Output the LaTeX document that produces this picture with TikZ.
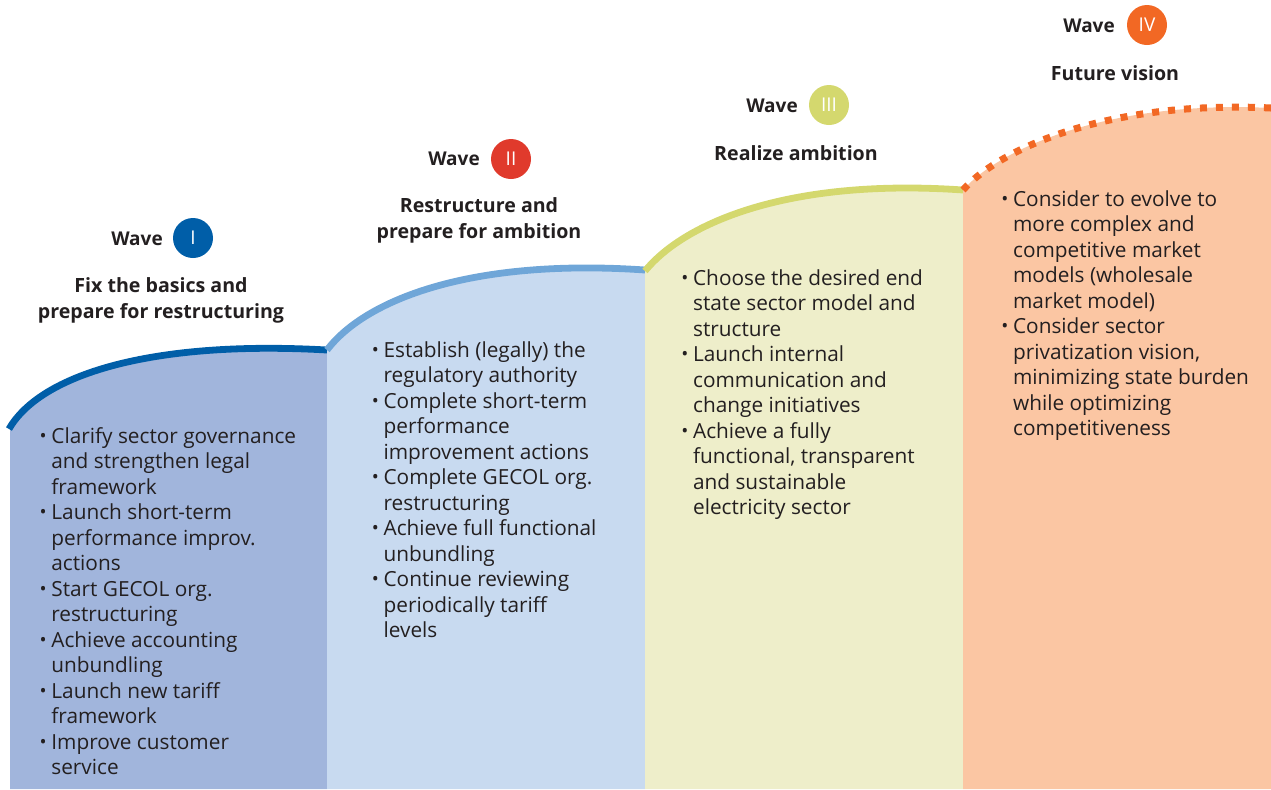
\documentclass[tikz,border=0pt]{standalone}
\usepackage{fontspec}
\setmainfont{Open Sans}
\definecolor{txt}{HTML}{231F20}
\definecolor{fillA}{HTML}{A1B5DC}
\definecolor{fillB}{HTML}{C8DAF0}
\definecolor{fillC}{HTML}{EEEECA}
\definecolor{fillD}{HTML}{FBC6A3}
\definecolor{lineA}{HTML}{005EA8}
\definecolor{lineB}{HTML}{6FA6D8}
\definecolor{lineC}{HTML}{D4D86E}
\definecolor{lineD}{HTML}{F26824}
\definecolor{redII}{HTML}{E03A2C}
\newcommand\bul{\makebox[4.6pt][l]{\hspace{-1.3pt}\raisebox{0.04em}{\scalebox{0.9}{\textbullet}}}}
\newcommand\ind{\makebox[4.6pt]{}}
\begin{document}
\begin{tikzpicture}[x=0.5pt,y=-0.5pt,
  body/.style={font=\fontsize{10.4}{12.75}\selectfont, text=txt, align=left, anchor=base west, inner sep=0pt},
  head/.style={font=\bfseries\fontsize{9.8}{12.75}\selectfont, text=txt, align=center, anchor=base, inner sep=0pt},
  wavelbl/.style={font=\bfseries\fontsize{9.5}{12}\selectfont, text=txt, anchor=base, inner sep=0pt},
  badge/.style={circle, minimum size=20pt, inner sep=0pt, text=white, font=\fontsize{9.5}{12}\selectfont},
  arcline/.style={line width=3.4pt}
]
\useasboundingbox (0,0) rectangle (1271,789);
% panel fills
\fill[fillA] (10,428) .. controls (40,375) and (150,340) .. (327,350) -- (327,789) -- (10,789) -- cycle;
\fill[fillB] (327,350) .. controls (365,300) and (470,258) .. (645,270) -- (645,789) -- (327,789) -- cycle;
\fill[fillC] (645,271) .. controls (685,222) and (790,178) .. (963,190) -- (963,789) -- (645,789) -- cycle;
\fill[fillD] (963,190) .. controls (1000,148) and (1110,100) .. (1271,108) -- (1271,789) -- (963,789) -- cycle;
% arcs
\draw[arcline, lineA] (9,429) .. controls (40,375) and (150,340) .. (327,350);
\draw[arcline, lineB] (327,350) .. controls (365,300) and (470,258) .. (645,270);
\draw[arcline, lineC] (645,271) .. controls (685,222) and (790,178) .. (963,190);
\draw[line width=3.5pt, lineD, dash pattern=on 3.5pt off 4.5pt] (963,190) .. controls (1000,148) and (1110,100) .. (1271,108);
% wave labels
\node[wavelbl] (w1) at (137,245) {Wave};
\node[badge, fill=lineA] (b1) at (193,238) {I};
\node[head] (h1) at (161,318) {Fix the basics and\\prepare for restructuring};
\node[wavelbl] (w2) at (454,165) {Wave};
\node[badge, fill=redII] (b2) at (511,159) {II};
\node[head] (h2) at (479,238) {Restructure and\\prepare for ambition};
\node[wavelbl] (w3) at (772,112) {Wave};
\node[badge, fill=lineC] (b3) at (829,105) {III};
\node[head] (h3) at (796,160) {Realize ambition};
\node[wavelbl] (w4) at (1089,32) {Wave};
\node[badge, fill=lineD] (b4) at (1147,25) {IV};
\node[head] (h4) at (1115,80) {Future vision};
% bullet texts (anchored at the baseline of the last line)
\node[body] (t1) at (41.8,774.5) {\bul Clarify sector governance\\\ind and strengthen legal\\\ind framework\\
\bul Launch short-term\\\ind performance improv.\\\ind actions\\
\bul Start GECOL org.\\\ind restructuring\\
\bul Achieve accounting\\\ind unbundling\\
\bul Launch new tariff\\\ind framework\\
\bul Improve customer\\\ind service};
\node[body] (t2) at (374,637.5) {\bul Establish (legally) the\\\ind regulatory authority\\
\bul Complete short-term\\\ind performance\\\ind improvement actions\\
\bul Complete GECOL org.\\\ind restructuring\\
\bul Achieve full functional\\\ind unbundling\\
\bul Continue reviewing\\\ind periodically tariff\\\ind levels};
\node[body] (t3) at (683.5,514.5) {\bul Choose the desired end\\\ind state sector model and\\\ind structure\\
\bul Launch internal\\\ind communication and\\\ind change initiatives\\
\bul Achieve a fully\\\ind functional, transparent\\\ind and sustainable\\\ind electricity sector};
\node[body] (t4) at (1003.5,435.5) {\bul Consider to evolve to\\\ind more complex and\\\ind competitive market\\\ind models (wholesale\\\ind market model)\\
\bul Consider sector\\\ind privatization vision,\\\ind minimizing state burden\\\ind while optimizing\\\ind competitiveness};
\end{tikzpicture}
\end{document}
